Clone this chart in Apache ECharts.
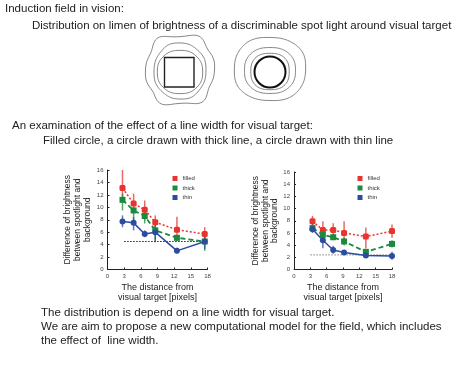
<!DOCTYPE html>
<html lang="en">
<head>
  <meta charset="utf-8">
  <title>Induction field</title>
  <script src="https://cdn.jsdelivr.net/npm/echarts@6/dist/echarts.min.js"></script>
</head>
<body style="margin:0;background:#fff">
<div id="main" style="width:476px;height:367px"></div>
<script type="text/javascript">
    // distances [pixels] as plotted in each panel
    var leftDist = [2.7, 4.7, 6.7, 8.6, 12.5, 17.5];
    var rightDist = [3.4, 5.3, 7.2, 9.2, 13.2, 18];

    // left panel
    var leftFilled = [13.1, 10.6, 9.6, 7.6, 6.4, 5.7];
    var leftFilledErr = [[10.8, 16], [9.0, 12.2], [8.0, 11.1], [6.8, 8.7], [4.6, 8.5], [4.9, 6.8]];
    var leftThick = [11.2, 9.5, 8.6, 6.3, 5.1, 4.5];
    var leftThickErr = [[9.5, 12.2], [8.0, 10.0], [7.4, 9.6], [4.4, 7.1], [4.6, 5.5], [3.0, 5.4]];
    var leftThin = [7.7, 7.5, 5.7, 6.0, 3.0, 4.5];
    var leftThinErr = [[6.8, 8.7], [6.3, 8.4], [5.2, 6.3], [4.4, 7.1], [2.6, 3.5], [3.3, 5.2]];
    var leftBase = 4.5;

    // right panel
    var rightFilled = [7.9, 6.5, 6.5, 6.0, 5.4, 6.3];
    var rightFilledErr = [[7.1, 8.8], [4.6, 7.9], [4.9, 7.6], [4.1, 7.9], [3.5, 6.9], [5.2, 7.4]];
    var rightThick = [6.8, 5.7, 5.3, 4.6, 2.9, 4.2];
    var rightThickErr = [[6.2, 7.4], [5.3, 6.1], [4.8, 5.8], [4.0, 5.2], [2.4, 3.4], [3.6, 4.8]];
    var rightThin = [6.6, 4.8, 3.2, 2.8, 2.3, 2.2];
    var rightThinErr = [[6.0, 7.4], [3.5, 6.2], [2.6, 3.9], [2.4, 3.2], [2.0, 2.7], [1.6, 2.9]];
    var rightBase = 2.4;

    var names = ['filled', 'thick', 'thin'];
    var colors = ['#e8342f', '#1b8a3c', '#2c4c9f'];
    var font = 'Liberation Sans, Arial, sans-serif';

    var myChart = echarts.init(document.getElementById('main'));

    function pairs(xs, ys) {
        return xs.map(function (x, i) { return [x, ys[i]]; });
    }

    function errBars(xs, err) {
        return xs.map(function (x, i) { return [x, err[i][0], err[i][1]]; });
    }

    function lineSeries(idx, name, xs, ys, dash, width, symbol) {
        return {
            name: name,
            type: 'line',
            xAxisIndex: idx,
            yAxisIndex: idx,
            data: pairs(xs, ys),
            symbol: symbol,
            symbolSize: 6,
            itemStyle: {color: colors[names.indexOf(name)]},
            lineStyle: {width: width, type: dash},
            z: 3
        };
    }

    function errSeries(idx, name, xs, err) {
        var c = colors[names.indexOf(name)];
        return {
            name: name,
            type: 'custom',
            xAxisIndex: idx,
            yAxisIndex: idx,
            data: errBars(xs, err),
            itemStyle: {color: c},
            renderItem: function (params, api) {
                var lo = api.coord([api.value(0), api.value(1)]);
                var hi = api.coord([api.value(0), api.value(2)]);
                return {
                    type: 'line',
                    shape: {x1: lo[0], y1: lo[1], x2: hi[0], y2: hi[1]},
                    style: {stroke: c, lineWidth: 1.5, opacity: 0.75}
                };
            },
            z: 2
        };
    }

    function baseSeries(idx, y, color) {
        return {
            type: 'line',
            xAxisIndex: idx,
            yAxisIndex: idx,
            data: [[3, y], [18, y]],
            symbol: 'none',
            lineStyle: {color: color, width: 1.2, type: [1.5, 1.5]},
            z: 1
        };
    }

    // wobbly closed contour for the top drawings
    function blob(cx, cy, rx, ry, amp, lobes, phase) {
        var pts = [];
        for (var k = 0; k < 60; k++) {
            var t = k / 60 * Math.PI * 2;
            var r = 1 + amp * Math.cos(lobes * t + phase);
            var sq = Math.pow(Math.abs(Math.cos(t)), 0.75) * Math.sign(Math.cos(t));
            var sy = Math.pow(Math.abs(Math.sin(t)), 0.75) * Math.sign(Math.sin(t));
            pts.push([cx + rx * r * sq, cy + ry * r * sy]);
        }
        return {type: 'polygon', shape: {points: pts, smooth: 0.4},
            style: {fill: 'none', stroke: '#666', lineWidth: 0.8}, silent: true};
    }

    function txt(x, y, s, size) {
        return {type: 'text', left: x, top: y,
            style: {text: s, font: size + 'px ' + font, fill: '#222'}};
    }

    function axisPair(idx) {
        return {
            x: {
                type: 'value', gridIndex: idx, min: 0, max: 18, interval: 3,
                name: 'The distance from\nvisual target [pixels]',
                nameLocation: 'middle', nameGap: 13,
                nameTextStyle: {fontSize: 9, fontFamily: font, color: '#222', lineHeight: 10, verticalAlign: 'top'},
                axisLine: {lineStyle: {color: '#222', width: 1}},
                axisTick: {length: 2, inside: true, lineStyle: {color: '#222'}},
                axisLabel: {fontSize: 6, fontFamily: font, color: '#444', margin: 4},
                splitLine: {show: false}
            },
            y: {
                type: 'value', gridIndex: idx, min: 0, max: 16, interval: 2,
                name: 'Difference of brightness\nbetween spotlight and\nbackground',
                nameLocation: 'middle', nameRotate: 90, nameGap: idx === 0 ? 11 : 9,
                nameTextStyle: {fontSize: 8.5, fontFamily: font, color: '#222', lineHeight: idx === 0 ? 10 : 9.5},
                axisLine: {show: true, lineStyle: {color: '#222', width: 1}},
                axisTick: {show: true, length: 2, inside: true, lineStyle: {color: '#222'}},
                axisLabel: {fontSize: 6, fontFamily: font, color: '#444', margin: 4},
                splitLine: {show: false}
            }
        };
    }

    var a0 = axisPair(0), a1 = axisPair(1);

    var legendBase = {
        data: names, orient: 'vertical', icon: 'rect', padding: 0,
        itemWidth: 5, itemHeight: 5, itemGap: 3.5,
        textStyle: {fontSize: 6, fontFamily: font, color: '#333'}
    };

    option = {
        animation: false,
        textStyle: {fontFamily: font},
        grid: [
            {left: 107.5, top: 170, width: 100, height: 99.5},
            {left: 294, top: 172, width: 98, height: 97.5}
        ],
        xAxis: [a0.x, a1.x],
        yAxis: [a0.y, a1.y],
        legend: [
            Object.assign({left: 172.5, top: 175.5}, legendBase),
            Object.assign({left: 357.5, top: 175.5}, legendBase)
        ],
        graphic: [
            txt(5, 2.5, 'Induction field in vision:', 11.5),
            txt(32, 20, 'Distribution on limen of brightness of a discriminable spot light around visual target', 11.5),
            // left drawing: square with contours
            blob(180, 70, 33, 35, 0.05, 6, 0.4),
            blob(180, 71, 25, 27, 0.04, 4, 0.3),
            blob(180, 72, 22, 21, 0.03, 4, 0),
            {type: 'rect', shape: {x: 164.5, y: 57.5, width: 29.5, height: 29.5},
                style: {fill: 'none', stroke: '#222', lineWidth: 1.4}},
            // right drawing: circle with contours
            blob(270, 69, 35, 31, 0.02, 4, 0.5),
            blob(270, 70.5, 25, 22.5, 0.02, 4, 0),
            blob(270, 71.5, 19, 18, 0.01, 4, 0),
            {type: 'circle', shape: {cx: 270, cy: 72, r: 15.5},
                style: {fill: 'none', stroke: '#111', lineWidth: 2}},
            txt(12, 119.5, 'An examination of the effect of a line width for visual target:', 11.5),
            txt(43, 135, 'Filled circle, a circle drawn with thick line, a circle drawn with thin line', 11.5),
            txt(41, 307, 'The distribution is depend on a line width for visual target.', 11.5),
            txt(41, 320.5, 'We are aim to propose a new computational model for the field, which includes', 11.5),
            txt(41, 334.5, 'the effect of  line width.', 11.5)
        ],
        series: [
            baseSeries(0, leftBase, '#222'),
            errSeries(0, 'filled', leftDist, leftFilledErr),
            errSeries(0, 'thick', leftDist, leftThickErr),
            errSeries(0, 'thin', leftDist, leftThinErr),
            lineSeries(0, 'filled', leftDist, leftFilled, [2, 2], 1.5, 'roundRect'),
            lineSeries(0, 'thick', leftDist, leftThick, [5, 3], 1.8, 'rect'),
            lineSeries(0, 'thin', leftDist, leftThin, 'solid', 1.5, 'circle'),
            baseSeries(1, rightBase, '#999'),
            errSeries(1, 'filled', rightDist, rightFilledErr),
            errSeries(1, 'thick', rightDist, rightThickErr),
            errSeries(1, 'thin', rightDist, rightThinErr),
            lineSeries(1, 'filled', rightDist, rightFilled, [2, 2], 1.5, 'roundRect'),
            lineSeries(1, 'thick', rightDist, rightThick, [5, 3], 1.8, 'rect'),
            lineSeries(1, 'thin', rightDist, rightThin, 'solid', 1.5, 'circle')
        ]
    };

    myChart.setOption(option);
</script>
</body>
</html>
